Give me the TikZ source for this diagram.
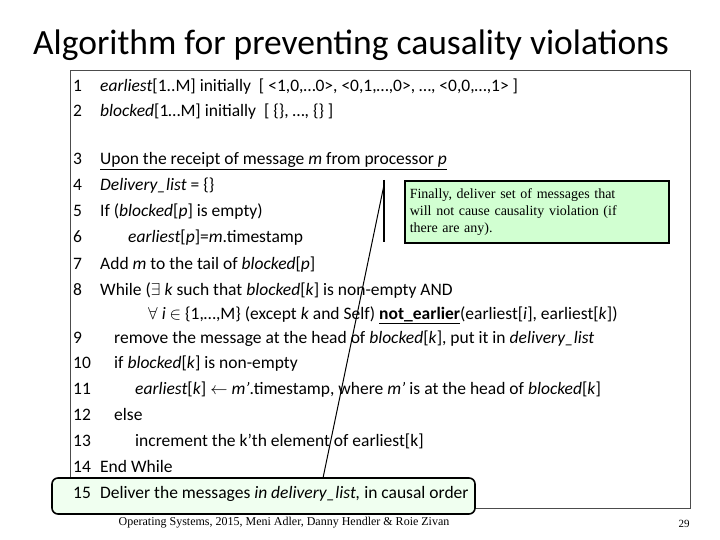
\documentclass[tikz,border=0pt]{standalone}
\usepackage{fontspec}
\setmainfont{Carlito}
\newfontfamily\serifb{Liberation Serif}
\begin{document}
\begin{tikzpicture}[x=1pt,y=-1pt,
  num/.style={anchor=base west,font=\fontsize{17.5}{20}\selectfont,inner sep=0pt},
  code/.style={anchor=base west,font=\fontsize{17.5}{20}\selectfont,inner sep=0pt}]
\useasboundingbox (0,0) rectangle (720,540);
\node[font=\fontsize{35.5}{40}\selectfont] (title) at (351,45) {Algorithm for preventing causality violations};
\draw[black!70,line width=0.8pt] (70,70) rectangle (690,508);
\node[draw,line width=1.6pt,rounded corners=6pt,fill=green!6,minimum width=423,minimum height=36,inner sep=0pt] (hl) at (263.5,496) {};
\def\ln#1#2#3{\node[num] at (73,#1) {#2}; \node[code] at (100,#1) {#3};}
\ln{92}{1}{\textit{earliest}[1..M] initially\ \ [ <1,0,…0>, <0,1,…,0>, …, <0,0,…,1> ]}
\ln{117}{2}{\textit{blocked}[1…M] initially\ \ [ \{\}, …, \{\} ]}
\ln{165}{3}{\underline{Upon the receipt of message \textit{m} from processor \textit{p}}}
\ln{191}{4}{\textit{Delivery\_list} = \{\}}
\ln{217}{5}{If (\textit{blocked}[\textit{p}] is empty)}
\ln{243}{6}{\hspace{1.6em}\textit{earliest}[\textit{p}]=\textit{m}.timestamp}
\ln{269}{7}{Add \textit{m} to the tail of \textit{blocked}[\textit{p}]}
\ln{295}{8}{While (\(\exists\) \textit{k} such that \textit{blocked}[\textit{k}] is non-empty AND}
\node[code] at (148,319) {\(\forall\) \textit{i} \(\in\) \{1,…,M\} (except \textit{k} and Self) \textbf{\underline{not\_earlier}}(earliest[\textit{i}], earliest[\textit{k}])};
\ln{343}{9}{\hspace{0.8em}remove the message at the head of \textit{blocked}[\textit{k}], put it in \textit{delivery\_list}}
\ln{368}{10}{\hspace{0.8em}if \textit{blocked}[\textit{k}] is non-empty}
\ln{394}{11}{\hspace{2em}\textit{earliest}[\textit{k}] \(\leftarrow\) \textit{m'}.timestamp, where \textit{m'} is at the head of \textit{blocked}[\textit{k}]}
\ln{420}{12}{\hspace{0.8em}else}
\ln{446}{13}{\hspace{2em}increment the k'th element of earliest[k]}
\ln{472}{14}{End While}
\ln{498}{15}{Deliver the messages \textit{in delivery\_list,} in causal order}
\node[draw,line width=1.6pt,fill=green!18,minimum width=264,minimum height=62,inner sep=4pt,anchor=north west,text width=254,font=\serifb\fontsize{14}{17}\selectfont] (call) at (404,180) {Finally, deliver set of messages that\\ will not cause causality violation (if\\ there are any).};
\coordinate (bt) at (384,180);
\coordinate (bb) at (384,242);
\coordinate (tip) at (323,478);
\draw[line width=1.5pt] (bt) -- (bb);
\draw[line width=1pt] (bt) ++(0,5) -- (tip);
\node[font=\serifb\fontsize{12}{14}\selectfont] (foot) at (284,523) {Operating Systems, 2015, Meni Adler, Danny Hendler \& Roie Zivan};
\node[font=\serifb\fontsize{11}{13}\selectfont] (pg) at (684,524) {29};
\end{tikzpicture}
\end{document}
